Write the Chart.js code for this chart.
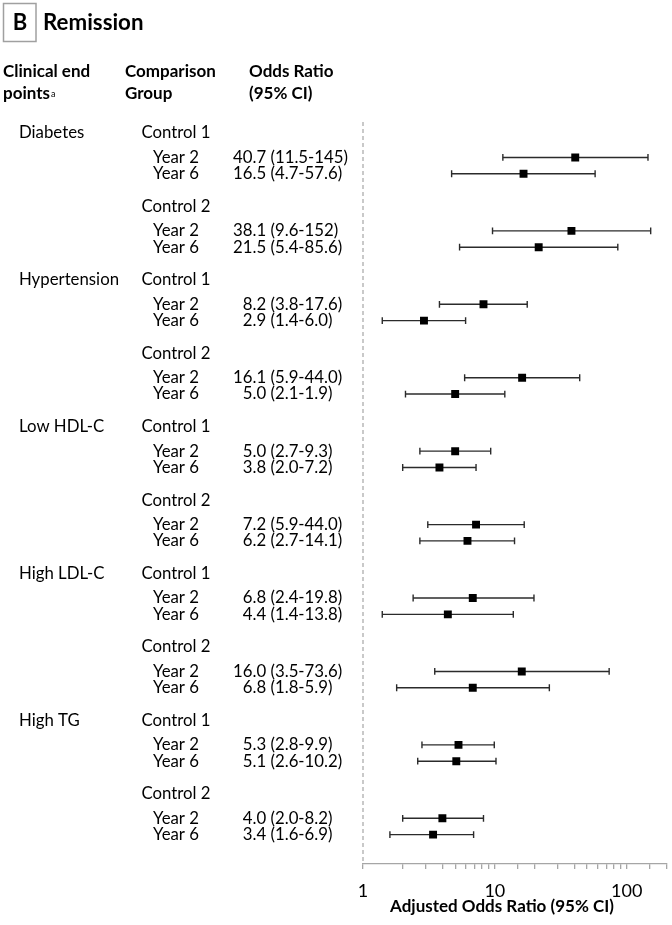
<!DOCTYPE html>
<html>
<head>
<meta charset="utf-8">
<script src="https://cdn.jsdelivr.net/npm/chart.js@4.4.1/dist/chart.umd.min.js"></script>
<style>
  html, body { margin: 0; padding: 0; background: #fff; }
  #wrap { width: 672px; height: 925px; position: relative; }
  canvas { display: block; }
</style>
</head>
<body>
<div id="wrap"><canvas id="c" width="672" height="925"></canvas></div>
<script>
// ---------------- DATA ----------------
const endpoints = ['Diabetes', 'Hypertension', 'Low HDL-C', 'High LDL-C', 'High TG'];
const comparisons = ['Control 1', 'Control 2'];
const years = ['Year 2', 'Year 6'];

// Odds ratios (plotted), one per endpoint × comparison × year
const oddsRatio = [40.7, 16.5, 38.1, 21.5,
                   8.2, 2.9, 16.1, 5.0,
                   5.0, 3.8, 7.2, 6.2,
                   6.8, 4.4, 16.0, 6.8,
                   5.3, 5.1, 4.0, 3.4];
const ciLow = [11.5, 4.7, 9.6, 5.4,
               3.8, 1.4, 5.9, 2.1,
               2.7, 2.0, 3.1, 2.7,
               2.4, 1.4, 3.5, 1.8,
               2.8, 2.6, 2.0, 1.6];
const ciHigh = [145, 57.6, 152, 85.6,
                17.6, 6.0, 44.0, 11.9,
                9.3, 7.2, 16.7, 14.1,
                19.8, 13.8, 73.6, 25.9,
                9.9, 10.2, 8.2, 6.9];
// Printed text column (as shown in the figure)
const orText = ['40.7 (11.5-145)', '16.5 (4.7-57.6)', '38.1 (9.6-152)', '21.5 (5.4-85.6)',
                '8.2 (3.8-17.6)', '2.9 (1.4-6.0)', '16.1 (5.9-44.0)', '5.0 (2.1-1.9)',
                '5.0 (2.7-9.3)', '3.8 (2.0-7.2)', '7.2 (5.9-44.0)', '6.2 (2.7-14.1)',
                '6.8 (2.4-19.8)', '4.4 (1.4-13.8)', '16.0 (3.5-73.6)', '6.8 (1.8-5.9)',
                '5.3 (2.8-9.9)', '5.1 (2.6-10.2)', '4.0 (2.0-8.2)', '3.4 (1.6-6.9)'];
const xTickLabels = [1, 10, 100];
const xMin = 1, xMax = 200;
const panelLetter = 'B';
const panelTitle = 'Remission';
const xAxisTitle = 'Adjusted Odds Ratio (95% CI)';

// ---------------- LAYOUT (row slots) ----------------
const GROUP_STEP = 4.5;   // slots per comparison group
const HEADER_TO_FIRST = 1.5;
const YEAR_STEP = 1;
const rows = [];        // one per plotted estimate
const headers = [];     // comparison headers
let k = 0;
endpoints.forEach((ep, i) => {
  comparisons.forEach((cmp, j) => {
    const g = i * comparisons.length + j;
    const hy = g * GROUP_STEP;
    headers.push({ y: hy, endpoint: j === 0 ? ep : null, label: cmp });
    years.forEach((yr, m) => {
      rows.push({ y: hy + HEADER_TO_FIRST + m * YEAR_STEP, year: yr, idx: k });
      k++;
    });
  });
});

const FONT = 'Lato';
const LINE_COLOR = '#2b2b2b';

const ciDatasets = rows.map(r => ({
  type: 'line',
  data: [{ x: ciLow[r.idx], y: r.y }, { x: ciHigh[r.idx], y: r.y }],
  borderColor: LINE_COLOR,
  borderWidth: 1.4,
  pointStyle: 'line',
  rotation: 90,
  pointRadius: 3.4,
  pointBorderWidth: 1.4,
  pointBorderColor: LINE_COLOR,
  showLine: true,
  fill: false,
  order: 2
}));

const orDataset = {
  type: 'scatter',
  data: rows.map(r => ({ x: oddsRatio[r.idx], y: r.y })),
  pointStyle: 'rect',
  pointRadius: 5.6,
  backgroundColor: '#000',
  borderColor: '#000',
  borderWidth: 0,
  order: 0
};

const textPlugin = {
  id: 'forestText',
  beforeDatasetsDraw(chart) {
    const ctx = chart.ctx, xs = chart.scales.x, a = chart.chartArea;
    const x1 = xs.getPixelForValue(1);
    ctx.save();
    ctx.strokeStyle = '#b8b8b8';
    ctx.lineWidth = 1.5;
    ctx.setLineDash([4, 3]);
    ctx.beginPath();
    ctx.moveTo(x1, a.top - 2);
    ctx.lineTo(x1, a.bottom);
    ctx.stroke();
    ctx.restore();
  },
  afterDraw(chart) {
    const ctx = chart.ctx, ys = chart.scales.y;
    ctx.save();
    ctx.fillStyle = '#000';
    ctx.textBaseline = 'middle';
    ctx.textAlign = 'left';

    // Panel box + title
    ctx.strokeStyle = '#a0a0a0';
    ctx.lineWidth = 1.5;
    ctx.strokeRect(3.5, 3.5, 32.5, 38);
    ctx.font = `bold 22px ${FONT}`;
    ctx.textAlign = 'center';
    ctx.fillText(panelLetter, 20, 23);
    ctx.textAlign = 'left';
    ctx.font = `bold 22.3px ${FONT}`;
    ctx.fillText(panelTitle, 43, 23);

    // Column headers
    ctx.font = `bold 17px ${FONT}`;
    ctx.fillText('Clinical end', 3, 72);
    ctx.fillText('points', 3, 94);
    const pw = ctx.measureText('points').width;
    ctx.fillText('Comparison', 125, 72);
    ctx.fillText('Group', 125, 94);
    ctx.fillText('Odds Ratio', 249, 72);
    ctx.fillText('(95% CI)', 249, 94);
    ctx.font = `9px ${FONT}`;
    ctx.fillText('a', 3 + pw + 1, 94);

    // Row texts
    ctx.font = `16.8px ${FONT}`;
    headers.forEach(h => {
      const py = ys.getPixelForValue(h.y);
      if (h.endpoint) ctx.fillText(h.endpoint, 19, py);
      ctx.fillText(h.label, 141.5, py);
    });
    const digitW = ctx.measureText('0').width;
    rows.forEach(r => {
      const py = ys.getPixelForValue(r.y);
      ctx.fillText(r.year, 153, py);
      const txt = orText[r.idx];
      const intPart = txt.split('.')[0];
      const offs = intPart.length < 2 ? digitW : 0;
      ctx.fillText(txt, 233 + offs, py);
    });

    // Axis title
    ctx.font = `bold 17px ${FONT}`;
    ctx.textAlign = 'center';
    ctx.fillText(xAxisTitle, 502, 907);
    ctx.restore();
  }
};

new Chart(document.getElementById('c'), {
  data: { datasets: [orDataset, ...ciDatasets] },
  plugins: [textPlugin],
  options: {
    responsive: false,
    animation: false,
    devicePixelRatio: 1,
    layout: { padding: { left: 363, right: 4, top: 124, bottom: 0 } },
    plugins: { legend: { display: false }, tooltip: { enabled: false } },
    scales: {
      x: {
        type: 'logarithmic',
        min: xMin,
        max: xMax,
        position: 'bottom',
        border: { display: true, color: '#a6a6a6', width: 1.3 },
        grid: { display: true, drawOnChartArea: false, drawTicks: true, tickLength: 5, color: '#a6a6a6', lineWidth: 1.3 },
        ticks: {
          autoSkip: false, maxRotation: 0, color: '#000', padding: 11,
          font: { family: FONT, size: 18 },
          callback: (v) => xTickLabels.includes(v) ? String(v) : ''
        },
        title: { display: false },
        afterFit: (s) => { s.height = 61; s.paddingLeft = 0; s.paddingRight = 0; }
      },
      y: {
        type: 'linear',
        display: false,
        reverse: true,
        min: -0.55,
        max: 44.8
      }
    }
  }
});
</script>
</body>
</html>
